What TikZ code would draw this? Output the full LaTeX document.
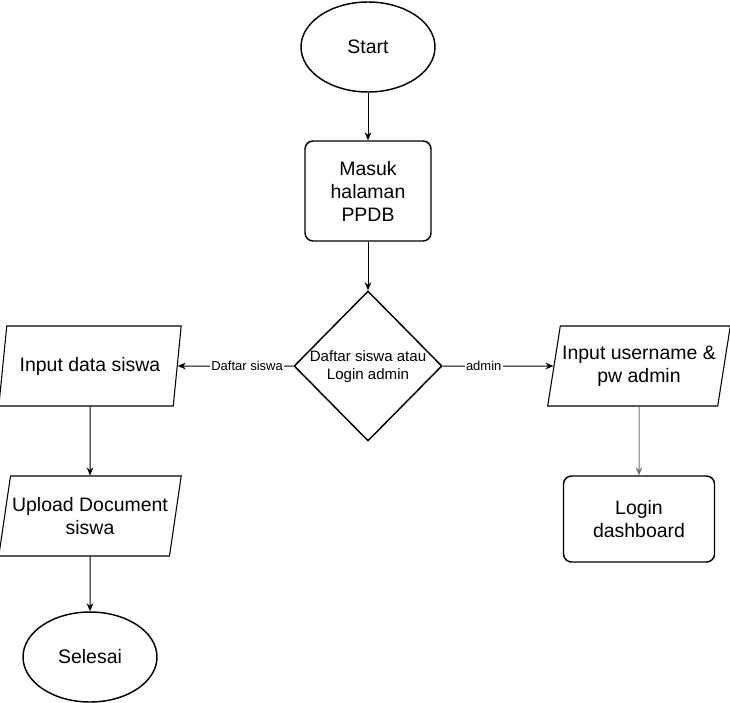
\documentclass[tikz,border=0pt]{standalone}
\usepackage{fontspec}
\setmainfont{Liberation Sans}
\usetikzlibrary{shapes.geometric,arrows.meta}

\begin{document}
\begin{tikzpicture}[x=0.75pt,y=-0.75pt,
    bigfont/.style={font=\fontsize{14.6}{17.25}\selectfont},
    terminal/.style={ellipse,draw,line width=1.1pt,minimum width=100.5pt,minimum height=67.5pt,bigfont},
    process/.style={rectangle,rounded corners=6pt,draw,line width=1.1pt,minimum width=94.5pt,minimum height=75pt,align=center,bigfont},
    decision/.style={diamond,draw,line width=1.1pt,minimum width=111pt,minimum height=112.5pt,inner sep=0pt},
    io/.style={trapezium,trapezium left angle=76,trapezium right angle=104,trapezium stretches=true,
        draw,line width=0.8pt,minimum width=137pt,minimum height=60pt,align=center,inner xsep=0pt,bigfont},
    edgelabel/.style={fill=white,inner sep=1pt,font=\fontsize{9.75}{11}\selectfont},
    arrow/.style={-{Stealth[length=6pt,width=5pt]},line width=0.75pt}]
    \useasboundingbox (0,0) rectangle (730,702);

    \node[terminal] (start) at (368,47) {Start};
    \node[process] (masuk) at (368,191) {Masuk\\halaman\\PPDB};
    \node[decision] (pilih) at (368,366) {};
    \node[align=center,font=\fontsize{11.3}{13.5}\selectfont] (piliht) at (368,367) {Daftar siswa atau\\Login admin};

    % jalur siswa
    \node[io] (inputsiswa) at (90,366) {Input data siswa};
    \node[io] (upload) at (90,516) {Upload Document\\siswa};
    \node[terminal] (selesai) at (90,657) {Selesai};

    % jalur admin
    \node[io] (inputadmin) at (639,366) {Input username \&\\pw admin};
    \node[process,minimum width=113.25pt,minimum height=64.5pt] (dashboard) at (639,519) {Login\\dashboard};

    \draw[arrow] (start) -- (masuk);
    \draw[arrow] (masuk) -- (pilih);
    \draw[arrow] (pilih) -- node[edgelabel,pos=0.4] {Daftar siswa} (inputsiswa);
    \draw[arrow] (pilih) -- node[edgelabel,pos=0.37] {admin} (inputadmin);
    \draw[arrow] (inputsiswa) -- (upload);
    \draw[arrow] (upload) -- (selesai);
    \draw[arrow,draw=black!55] (inputadmin) -- (dashboard);
\end{tikzpicture}
\end{document}
